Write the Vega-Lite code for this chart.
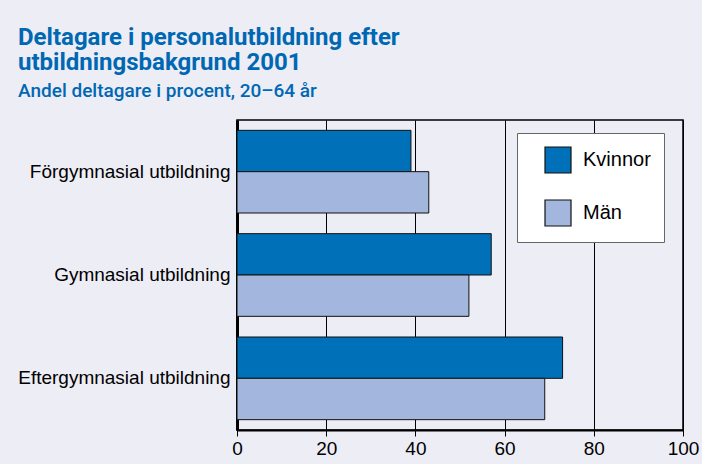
{
  "$schema": "https://vega.github.io/schema/vega-lite/v6.json",
  "width": 446,
  "height": 310,
  "autosize": {"type": "none"},
  "padding": {"left": 237, "top": 120, "right": 19, "bottom": 34},
  "background": "#ededf6",
  "title": {
    "text": ["Deltagare i personalutbildning efter", "utbildningsbakgrund 2001"],
    "subtitle": "Andel deltagare i procent, 20–64 år",
    "anchor": "start",
    "frame": "group",
    "dx": -219,
    "offset": 19,
    "font": "Roboto",
    "fontSize": 24,
    "fontWeight": "bold",
    "lineHeight": 25,
    "color": "#0068b3",
    "subtitleFont": "Roboto",
    "subtitleFontSize": 19,
    "subtitleFontWeight": 500,
    "subtitleColor": "#0068b3",
    "subtitlePadding": 7
  },
  "data": {
    "values": [
      {"utbildning": "Förgymnasial utbildning", "kon": "Kvinnor", "andel": 39},
      {"utbildning": "Förgymnasial utbildning", "kon": "Män", "andel": 43},
      {"utbildning": "Gymnasial utbildning", "kon": "Kvinnor", "andel": 57},
      {"utbildning": "Gymnasial utbildning", "kon": "Män", "andel": 52},
      {"utbildning": "Eftergymnasial utbildning", "kon": "Kvinnor", "andel": 73},
      {"utbildning": "Eftergymnasial utbildning", "kon": "Män", "andel": 69}
    ]
  },
  "mark": {"type": "bar", "stroke": "#111111", "strokeWidth": 1},
  "encoding": {
    "y": {
      "field": "utbildning",
      "type": "nominal",
      "sort": ["Förgymnasial utbildning", "Gymnasial utbildning", "Eftergymnasial utbildning"],
      "scale": {"paddingInner": 0.2, "paddingOuter": 0.1},
      "axis": {
        "title": null,
        "ticks": false,
        "labelPadding": 7,
        "labelLimit": 300,
        "labelFont": "Liberation Sans",
        "labelFontSize": 19,
        "labelColor": "#000000",
        "domainColor": "#000000",
        "domainWidth": 3,
        "grid": false
      }
    },
    "yOffset": {
      "field": "kon",
      "type": "nominal",
      "sort": ["Kvinnor", "Män"],
      "scale": {"paddingInner": 0, "paddingOuter": 0}
    },
    "x": {
      "field": "andel",
      "type": "quantitative",
      "scale": {"domain": [0, 100], "nice": false},
      "axis": {
        "title": null,
        "values": [0, 20, 40, 60, 80, 100],
        "grid": true,
        "gridColor": "#000000",
        "gridWidth": 1,
        "gridOpacity": 1,
        "tickColor": "#000000",
        "tickSize": 6,
        "tickWidth": 1,
        "labelPadding": 3,
        "labelFont": "Liberation Sans",
        "labelFontSize": 19,
        "labelColor": "#000000",
        "labelFlush": false,
        "domainColor": "#000000",
        "domainWidth": 2
      }
    },
    "color": {
      "field": "kon",
      "type": "nominal",
      "sort": ["Kvinnor", "Män"],
      "scale": {"domain": ["Kvinnor", "Män"], "range": ["#0071b9", "#a3b6dd"]},
      "legend": {
        "title": null,
        "orient": "none",
        "legendX": 280,
        "legendY": 13,
        "fillColor": "#ffffff",
        "strokeColor": "#666666",
        "padding": 13,
        "symbolType": "square",
        "symbolSize": 676,
        "symbolStrokeColor": "#111111",
        "symbolStrokeWidth": 1.2,
        "symbolOffset": 14,
        "labelOffset": 11,
        "labelFont": "Liberation Sans",
        "labelFontSize": 20,
        "labelColor": "#000000",
        "rowPadding": 21
      }
    }
  },
  "config": {
    "view": {"stroke": "#000000", "strokeWidth": 1.5, "fill": "#ededf6"}
  }
}
